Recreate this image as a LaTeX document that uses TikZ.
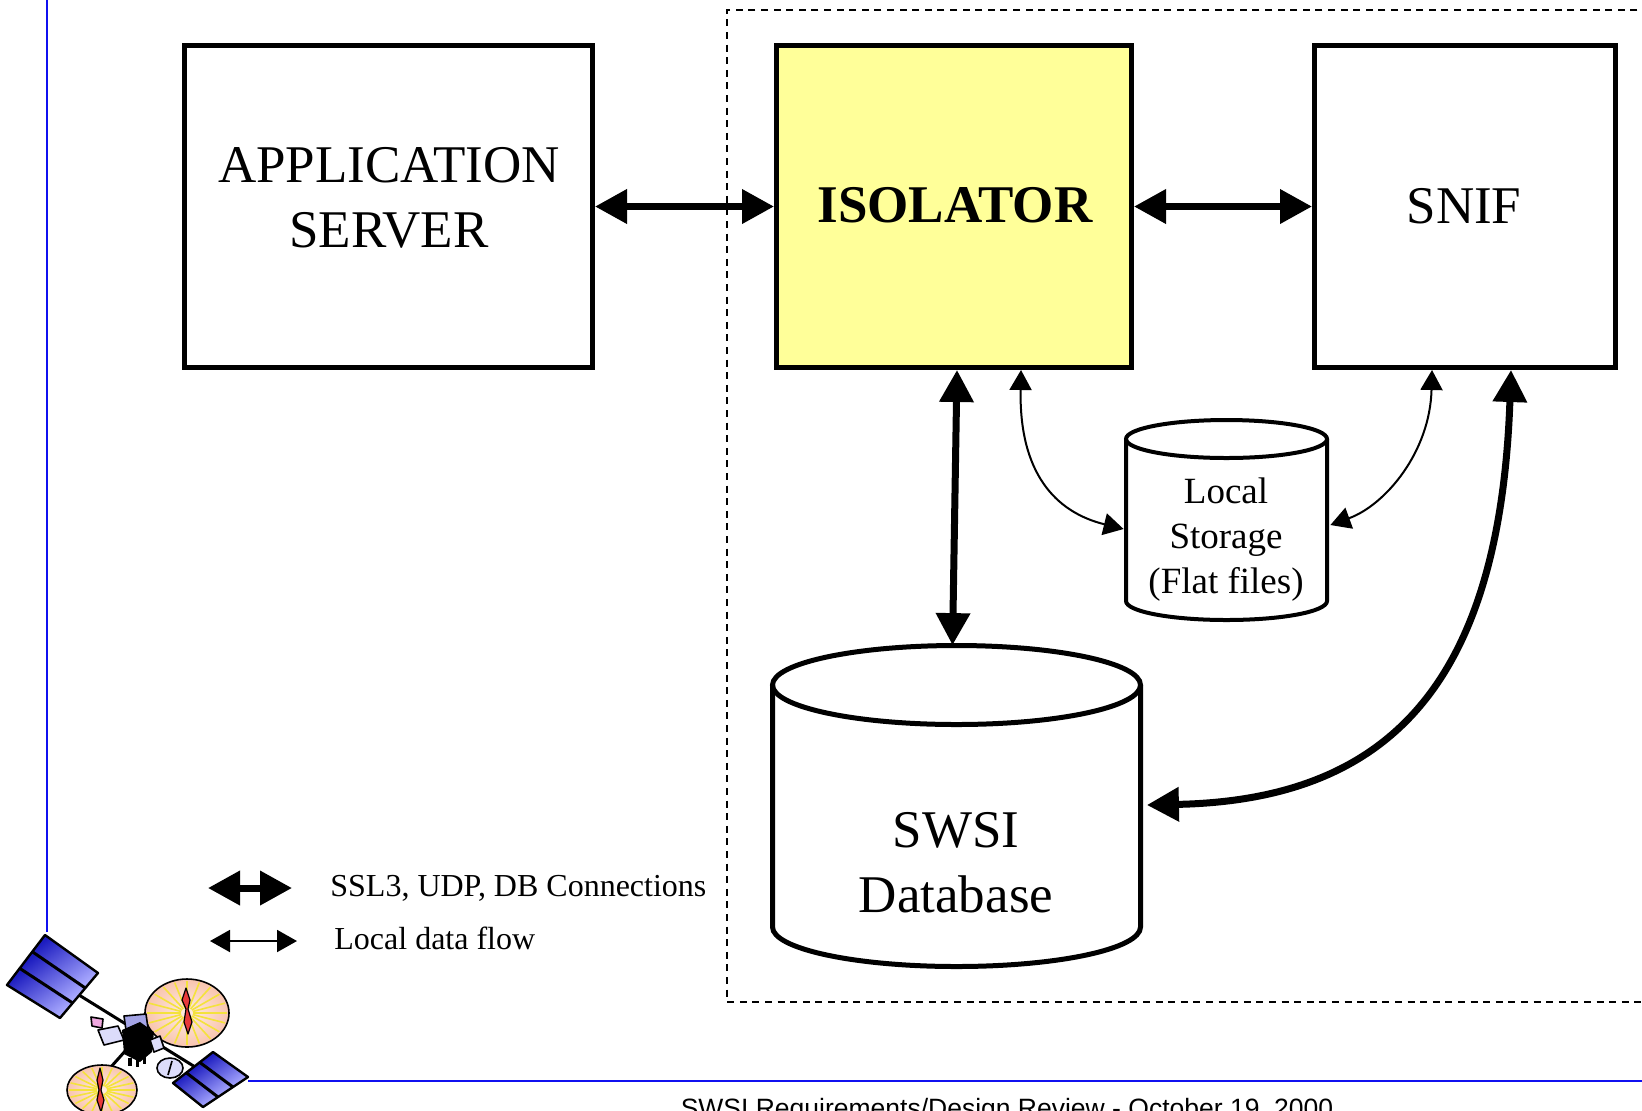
\documentclass[tikz,border=0pt]{standalone}
\usepackage{fontspec}
\setmainfont{Liberation Serif}
\newfontfamily\footfont{Liberation Sans}
\usetikzlibrary{arrows.meta,calc}
\definecolor{isoyellow}{HTML}{FFFF99}
\definecolor{rulecol}{HTML}{1010F0}
\definecolor{pdark}{HTML}{1C1CC0}
\definecolor{plight}{HTML}{A8A8FF}
\definecolor{dishpeach}{HTML}{F8C4AE}
\definecolor{dishlight}{HTML}{FFEDE4}
\definecolor{spokecol}{HTML}{F4E23C}
\definecolor{feedred}{HTML}{E83A3A}
\definecolor{lav}{HTML}{A4A4E6}
\definecolor{lavlight}{HTML}{DCDCFA}
\definecolor{flagpink}{HTML}{F0A8E0}
\begin{document}
\begin{tikzpicture}[x=0.5pt,y=-0.5pt,
  block/.style={draw, line width=2.5pt, inner sep=0pt, minimum height=161pt},
  bigtext/.style={font=\fontsize{26.5pt}{32.5pt}\selectfont, align=center, inner sep=0pt},
  midtext/.style={font=\fontsize{18.5pt}{22.5pt}\selectfont, align=center, inner sep=0pt},
  keytext/.style={font=\fontsize{16pt}{19pt}\selectfont, anchor=west, inner sep=0pt},
  area/.style={inner sep=0pt},
  thickconn/.style={line width=3.5pt,
    {Triangle[length=16pt,width=16.5pt]}-{Triangle[length=16pt,width=16.5pt]}},
  thinconn/.style={line width=1pt,
    {Triangle[length=10pt,width=11pt]}-{Triangle[length=10pt,width=11pt]}},
  spoke/.style={spokecol, line width=0.8pt},
  outline/.style={draw=black, line width=0.8pt}]

\useasboundingbox (0,0) rectangle (1642,1110);
\clip (0,0) rectangle (1642,1110);

% page rules
\draw[rulecol, line width=1pt] (47,0) -- (47,932);
\draw[rulecol, line width=1pt] (248,1081) -- (1650,1081);

% secure enclave boundary
\draw[line width=1pt, dash pattern=on 3.5pt off 2.8pt] (1650,10) -- (727,10) -- (727,1002) -- (1650,1002);

% main blocks
\node[block, minimum width=204pt] (app) at (388.5,206.5) {};
\node[bigtext] (apptext) at (389,197.5) {APPLICATION\\SERVER};
\node[block, fill=isoyellow, minimum width=177.5pt] (iso) at (954,206.5) {};
\node[bigtext, font=\fontsize{26.5pt}{32.5pt}\selectfont\bfseries] (isotext) at (955,205) {ISOLATOR};
\node[block, minimum width=150.5pt] (snif) at (1465,206.5) {};
\node[bigtext] (sniftext) at (1464,206) {SNIF};

% SWSI database cylinder
\draw[line width=2.5pt] (772.5,685) -- (772.5,927)
  .. controls (772.5,948.8) and (854.9,966.5) .. (956.5,966.5)
  .. controls (1058.1,966.5) and (1140.5,948.8) .. (1140.5,927) -- (1140.5,685);
\draw[line width=2.5pt] (956.5,685) ellipse [x radius=92pt, y radius=19.75pt];
\node[area, minimum width=184pt, minimum height=160.5pt] (db) at (956.5,806) {};
\node[bigtext] (dbtext) at (956,862.5) {SWSI\\Database};

% local storage cylinder
\draw[line width=2pt] (1126,439) -- (1126,601)
  .. controls (1126,611.5) and (1171,620) .. (1226.5,620)
  .. controls (1282,620) and (1327,611.5) .. (1327,601) -- (1327,439);
\draw[line width=2pt] (1226.5,439) ellipse [x radius=50.25pt, y radius=9.5pt];
\node[area, minimum width=100.5pt, minimum height=100pt] (ls) at (1226.5,520) {};
\node[midtext] (lstext) at (1226,540) {Local\\Storage\\(Flat files)};

% connections
\draw[thickconn] (app.east) -- (iso.west);
\draw[thickconn] (iso.east) -- (snif.west);
\draw[thickconn] ($(iso.south)+(3,0)$) -- ($(db.north)+(-4,0)$);
\draw[thickconn] ($(snif.south)+(46,0)$)
  .. controls ($(snif.south)+(35,312)$) and ($(db.east)+(249.5,-6)$) .. ($(db.east)+(6,-1)$);
\draw[thinconn] ($(iso.south)+(67,0)$)
  .. controls ($(iso.south)+(65,102)$) and ($(ls.west)+(-71,-8)$) .. ($(ls.west)+(-2,9)$);
\draw[thinconn] ($(snif.south)+(-33,0)$)
  .. controls ($(snif.south)+(-35,82)$) and ($(ls.east)+(58,-15)$) .. ($(ls.east)+(3,5)$);

% key
\coordinate (k1a) at (208,888);
\coordinate (k1b) at (292,888);
\draw[thickconn] (k1a) -- (k1b);
\node[keytext] (k1text) at (330,888) {SSL3, UDP, DB Connections};
\coordinate (k2a) at (210,941);
\coordinate (k2b) at (297,941);
\draw[thinconn] (k2a) -- (k2b);
\node[keytext] (k2text) at (334,938) {Local data flow};

% footer
\node[font=\footfont\fontsize{13.25pt}{16pt}\selectfont, anchor=base, inner sep=0pt] (foot)
  at (1007,1117) {SWSI Requirements/Design Review - October 19, 2000};

% satellite emblem
\begin{scope}[line join=round]
  % booms
  \draw[line width=1.5pt] (79,995) -- (200,1070);
  \draw[line width=1.5pt] (135,1040) -- (110,1068);
  \draw[line width=1.2pt] (140,1036) -- (165,1022);
  % upper solar array
  \shade[left color=pdark, right color=plight, shading angle=35]
    (45,935) -- (98,973) -- (85.3,988) -- (32.3,951.7) -- cycle;
  \shade[left color=pdark, right color=plight, shading angle=35]
    (32.3,951.7) -- (85.3,988) -- (72.7,1003) -- (19.7,968.3) -- cycle;
  \shade[left color=pdark, right color=plight, shading angle=35]
    (19.7,968.3) -- (72.7,1003) -- (60,1018) -- (7,985) -- cycle;
  \draw[line width=1.2pt] (45,935) -- (98,973) -- (60,1018) -- (7,985) -- cycle;
  \draw[line width=1.5pt] (32.3,951.7) -- (85.3,988);
  \draw[line width=1.5pt] (19.7,968.3) -- (72.7,1003);
  % lower solar array
  \shade[left color=pdark, right color=plight, shading angle=35]
    (213,1052) -- (248,1077) -- (233,1087) -- (199.7,1062.3) -- cycle;
  \shade[left color=pdark, right color=plight, shading angle=35]
    (199.7,1062.3) -- (233,1087) -- (218,1097) -- (186.3,1072.7) -- cycle;
  \shade[left color=pdark, right color=plight, shading angle=35]
    (186.3,1072.7) -- (218,1097) -- (203,1107) -- (173,1083) -- cycle;
  \draw[line width=1.2pt] (213,1052) -- (248,1077) -- (203,1107) -- (173,1083) -- cycle;
  \draw[line width=1.5pt] (199.7,1062.3) -- (233,1087);
  \draw[line width=1.5pt] (186.3,1072.7) -- (218,1097);
  % upper dish
  \shade[inner color=dishlight, outer color=dishpeach] (187,1013) ellipse [x radius=21pt, y radius=17pt];
  \foreach \a in {0,18,...,342} \draw[spoke] ($(187,1013)+(\a:3pt and 2.5pt)$) -- ++(\a:17pt and 13.5pt);
  \draw[outline] (187,1013) ellipse [x radius=21pt, y radius=17pt];
  \filldraw[fill=feedred, line width=0.6pt] (186,988) -- (190,1000) -- (188,1009) -- (192,1022)
    -- (188,1034) -- (184,1022) -- (186,1009) -- (182,1000) -- cycle;
  % lower dish
  \shade[inner color=dishlight, outer color=dishpeach] (102,1090) ellipse [x radius=17.5pt, y radius=12.5pt];
  \foreach \a in {0,18,...,342} \draw[spoke] ($(102,1090)+(\a:2.5pt and 2pt)$) -- ++(\a:14pt and 9.5pt);
  \draw[outline] (102,1090) ellipse [x radius=17.5pt, y radius=12.5pt];
  \filldraw[fill=feedred, line width=0.6pt] (100,1068) -- (103,1080) -- (101,1090) -- (104,1100)
    -- (101,1112) -- (97,1100) -- (99,1090) -- (97,1080) -- cycle;
  % bus
  \filldraw[fill=lavlight, outline] (98,1030) -- (118,1026) -- (124,1040) -- (104,1045) -- cycle;
  \filldraw[fill=flagpink, outline] (91,1017) -- (103,1019) -- (102,1028) -- (92,1026) -- cycle;
  \filldraw[fill=lav, outline] (124,1016) -- (146,1014) -- (148,1028) -- (126,1030) -- cycle;
  \fill (122,1030) -- (140,1022) -- (154,1032) -- (152,1052) -- (140,1062) -- (124,1054) -- cycle;
  \fill (128,1058) rectangle (132,1066);
  \fill (136,1060) rectangle (139,1067);
  \fill (143,1057) rectangle (146,1064);
  \filldraw[fill=lavlight, outline] (150,1040) -- (160,1036) -- (164,1048) -- (154,1052) -- cycle;
  \filldraw[fill=lavlight, outline] (170,1068) ellipse [x radius=6.5pt, y radius=5pt];
  \draw[line width=0.8pt] (172,1061) -- (168,1075);
\end{scope}
\end{tikzpicture}
\end{document}
